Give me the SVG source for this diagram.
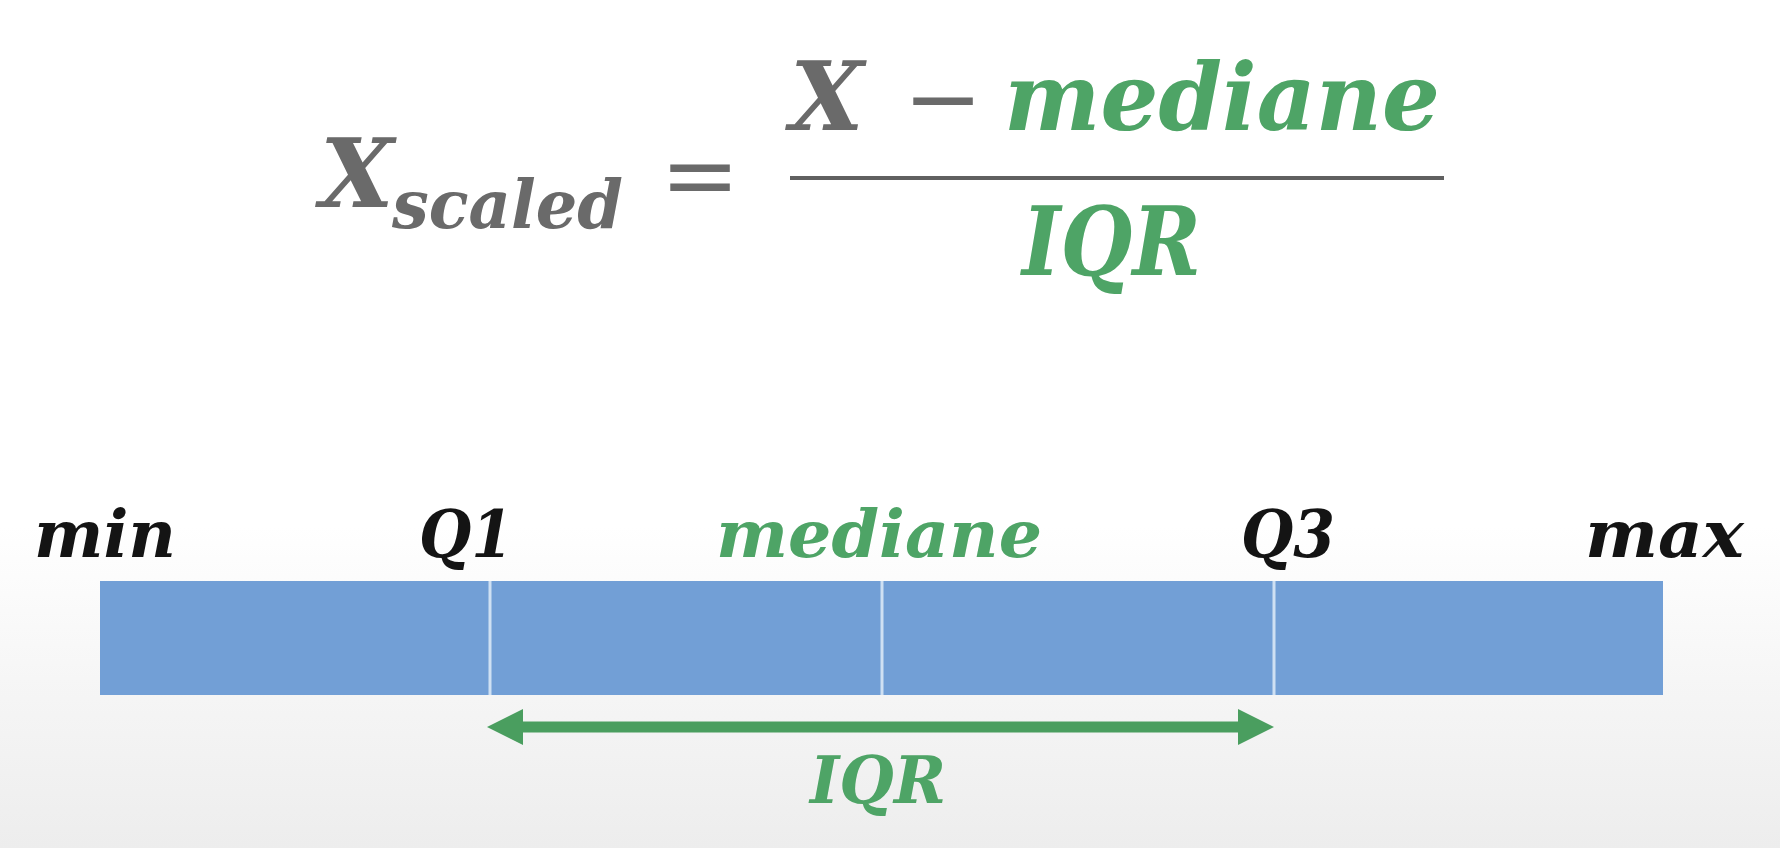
<svg xmlns="http://www.w3.org/2000/svg" width="1780" height="848" viewBox="0 0 1780 848">
<defs>
<linearGradient id="bg" x1="0" y1="0" x2="0" y2="1">
<stop offset="0" stop-color="#ffffff"/>
<stop offset="0.62" stop-color="#ffffff"/>
<stop offset="0.8" stop-color="#f6f6f6"/>
<stop offset="1" stop-color="#ededed"/>
</linearGradient>
<marker id="ah" viewBox="0 0 36 36" refX="2" refY="18" markerWidth="36" markerHeight="36" markerUnits="userSpaceOnUse" orient="auto-start-reverse">
<path d="M0,0 L36,18 L0,36 Z" fill="#4a9e5f"/>
</marker>
<style>
.f{font-family:"DejaVu Serif","Liberation Serif",serif;font-weight:bold;font-style:italic}
.g{fill:#6a6a6a}
.gr{fill:#4ea466}
.k{fill:#141414}
.big{font-size:95px}
.lab{font-size:66px}
.seg{fill:#729fd6}
.div{stroke:#cfe0f3;stroke-width:3}
</style>
</defs>
<rect x="0" y="0" width="1780" height="848" fill="url(#bg)"/>

<g id="formula">
<text class="f g big" x="320" y="207">X</text>
<text class="f g" x="392" y="228" font-size="67" textLength="231" lengthAdjust="spacingAndGlyphs">scaled</text>
<text class="g" x="700" y="208" font-family="DejaVu Serif, serif" font-size="95" text-anchor="middle">=</text>
<text class="f g big" x="790" y="130">X</text>
<text class="g" x="943" y="131" font-family="DejaVu Serif, serif" font-size="95" text-anchor="middle">−</text>
<text class="f gr" x="1004" y="130" font-size="93" textLength="436" lengthAdjust="spacingAndGlyphs">mediane</text>
<line x1="790" y1="178" x2="1444" y2="178" stroke="#606060" stroke-width="4"/>
<text class="f gr big" x="1022" y="275" textLength="179" lengthAdjust="spacingAndGlyphs">IQR</text>
</g>

<g id="bar">
<rect class="seg" x="100" y="581" width="1563" height="114"/>
<line class="div" x1="490" y1="581" x2="490" y2="695"/>
<line class="div" x1="882" y1="581" x2="882" y2="695"/>
<line class="div" x1="1274" y1="581" x2="1274" y2="695"/>
</g>

<g id="labels">
<text id="min" class="f k lab" x="34" y="557" textLength="142" lengthAdjust="spacingAndGlyphs">min</text>
<text id="q1" class="f k lab" x="419" y="557" textLength="94" lengthAdjust="spacingAndGlyphs">Q1</text>
<text id="median" class="f gr lab" x="716" y="557" textLength="326" lengthAdjust="spacingAndGlyphs">mediane</text>
<text id="q3" class="f k lab" x="1241" y="557" textLength="94" lengthAdjust="spacingAndGlyphs">Q3</text>
<text id="max" class="f k lab" x="1585" y="557" textLength="159" lengthAdjust="spacingAndGlyphs">max</text>
<text id="iqr" class="f gr lab" x="810" y="803" textLength="136" lengthAdjust="spacingAndGlyphs">IQR</text>
</g>

<g id="connectors">
<line x1="521" y1="727" x2="1240" y2="727" stroke="#4a9e5f" stroke-width="11" marker-start="url(#ah)" marker-end="url(#ah)"/>
</g>
</svg>
